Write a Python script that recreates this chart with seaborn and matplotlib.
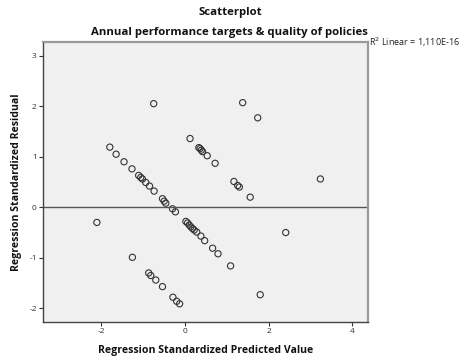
import matplotlib
matplotlib.use("Agg")
import matplotlib.pyplot as plt
import seaborn as sns
import pandas as pd

predicted = [-2.11, -1.26, -1.80, -1.65, -1.46, -1.27, -1.11, -1.06, -1.02, -0.94,
             -0.85, -0.74, -0.54, -0.50, -0.46, -0.30, -0.23, -0.75, -0.87, -0.82,
             -0.70, -0.54, -0.29, -0.20, -0.13, 0.02, 0.06, 0.10, 0.14, 0.18,
             0.22, 0.28, 0.38, 0.47, 0.66, 0.79, 1.09, 0.12, 0.33, 0.36,
             0.39, 0.42, 0.53, 0.72, 1.38, 1.74, 1.17, 1.26, 1.30, 1.56,
             3.24, 2.41, 1.80]
residual = [-0.30, -0.99, 1.19, 1.05, 0.90, 0.76, 0.63, 0.59, 0.56, 0.49,
            0.42, 0.32, 0.17, 0.12, 0.08, -0.03, -0.09, 2.05, -1.30, -1.35,
            -1.44, -1.57, -1.78, -1.86, -1.91, -0.28, -0.31, -0.35, -0.39, -0.42,
            -0.45, -0.49, -0.57, -0.66, -0.81, -0.92, -1.16, 1.36, 1.18, 1.16,
            1.13, 1.10, 1.02, 0.87, 2.07, 1.77, 0.51, 0.43, 0.40, 0.20,
            0.56, -0.50, -1.73]
x_ticks = [-2, 0, 2, 4]
y_ticks = [-2, -1, 0, 1, 2, 3]
title_main = "Scatterplot"
title_sub = "Annual performance targets & quality of policies"
fit_label = "R$^2$ Linear = 1,110E-16"

sns.set_theme(style="white")
plt.rcParams['font.family'] = ['Open Sans', 'DejaVu Sans']

df = pd.DataFrame({"pred": predicted, "resid": residual})

fig = plt.figure(figsize=(4.61, 3.62), dpi=100)
ax = fig.add_axes([43/461, 1 - 322/362, (368-43)/461, (322-42)/362])
ax.set_facecolor("#F0F0F0")

sns.scatterplot(data=df, x="pred", y="resid", ax=ax, marker="o", s=20,
                facecolor="none", edgecolor="#333333", linewidth=0.8, legend=False)
ax.axhline(0, color="#555555", linewidth=1.0, zorder=1)

ax.set_xlim(-3.4, 4.38)
ax.set_ylim(-2.27, 3.27)
ax.set_xticks(x_ticks)
ax.set_yticks(y_ticks)
ax.set_xticklabels([str(t) for t in x_ticks])
ax.set_yticklabels([str(t) for t in y_ticks])
ax.tick_params(axis="both", labelsize=6, colors="#333333", length=3, width=0.8,
               direction="out", pad=1.5, bottom=True, left=True)
for side in ["left", "bottom"]:
    ax.spines[side].set_color("#444444")
    ax.spines[side].set_linewidth(1.0)
for side in ["top", "right"]:
    ax.spines[side].set_color("#999999")
    ax.spines[side].set_linewidth(1.6)

ax.set_xlabel("Regression Standardized Predicted Value", fontsize=7.6,
              fontweight="bold", color="#111111", labelpad=7)
ax.set_ylabel("Regression Standardized Residual", fontsize=7.6,
              fontweight="bold", color="#111111", labelpad=5)

fig.text(230/461, 1 - 12/362, title_main, ha="center", va="center",
         fontsize=8.2, fontweight="bold", color="#111111")
fig.text(229/461, 1 - 32/362, title_sub, ha="center", va="center",
         fontsize=8.2, fontweight="bold", color="#111111")
fig.text(369/461, 1 - 42/362, fit_label, ha="left", va="center",
         fontsize=6.5, color="#222222")

fig.savefig("out.png", dpi=100)
